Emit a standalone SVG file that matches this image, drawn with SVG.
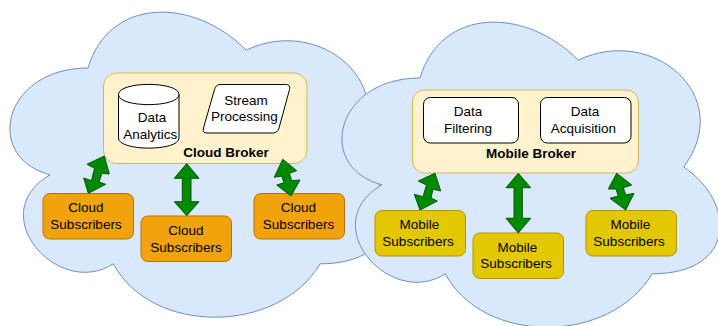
<svg xmlns="http://www.w3.org/2000/svg" width="718" height="326" viewBox="0 0 718 326">
<style>
.cloud{fill:#dae8fc;stroke:#6c8ebf;stroke-width:1}
.broker{fill:#fff2cc;stroke:#d6b656;stroke-width:1}
.cs{fill:#f0a30a;stroke:#bd7000;stroke-width:1}
.ms{fill:#e3c800;stroke:#b09500;stroke-width:1}
.inner{fill:#fff;stroke:#000;stroke-width:1}
.arrow{fill:#008a00;stroke:#005700;stroke-width:1;stroke-linejoin:miter}
text{font-family:"Liberation Sans",Arial,sans-serif;font-size:13.5px;fill:#000;text-anchor:middle}
.b{font-weight:bold}
</style>
<defs>
<path id="cloudShape" d="M105.500 89C21.100 89 0 178 67.520 195.800C0 234.960 75.960 320.400 130.820 284.800C168.800 356 295.400 356 337.600 284.800C422 284.800 422 213.600 369.250 178C422 106.800 337.600 35.600 263.750 71.200C211 17.800 126.600 17.800 105.500 89Z"/>
</defs>
<g id="cloud-region"><use href="#cloudShape" class="cloud" transform="translate(-17.500 -21)"/></g>
<g id="mobile-region"><use href="#cloudShape" class="cloud" transform="translate(314.500 -11)"/></g>
<g id="cloud-broker">
<rect class="broker" x="103.500" y="73" width="203.500" height="90.500" rx="13"/>
<text class="b" x="226" y="157">Cloud Broker</text>
</g>
<g id="data-analytics">
<path class="inner" d="M118.500 94.500C118.500 81 179 81 179 94.500V138C179 151.500 118.500 151.500 118.500 138Z"/>
<path d="M118.500 94.500C118.500 108 179 108 179 94.500" fill="none" stroke="#000"/>
<text x="152" y="122">Data</text>
<text x="150.300" y="139">Analytics</text>
</g>
<g id="stream-processing">
<path class="inner" d="M220 84.500H285.500Q291 84.500 289.500 89.500L279 128Q277.500 133 272.500 133H207Q202 133 203.500 128L214.500 89.500Q216 84.500 220 84.500Z"/>
<text x="246" y="105">Stream</text>
<text x="244.300" y="121">Processing</text>
</g>
<g id="cloud-sub-1"><rect class="cs" x="43" y="193.500" width="90.500" height="45.500" rx="6.800"/><text x="86" y="212">Cloud</text><text x="86" y="229">Subscribers</text></g>
<g id="cloud-sub-2"><rect class="cs" x="141" y="216" width="90.500" height="45.500" rx="6.800"/><text x="186" y="235">Cloud</text><text x="186" y="252">Subscribers</text></g>
<g id="cloud-sub-3"><rect class="cs" x="254" y="193.500" width="90.500" height="45.500" rx="6.800"/><text x="298.500" y="212">Cloud</text><text x="298.500" y="229">Subscribers</text></g>
<g id="mobile-broker">
<rect class="broker" x="412.500" y="90" width="226" height="83" rx="12"/>
<text class="b" x="531" y="158">Mobile Broker</text>
</g>
<g id="data-filtering"><rect class="inner" x="423.500" y="97.500" width="95" height="45.500" rx="6.800"/><text x="468" y="116">Data</text><text x="468" y="133">Filtering</text></g>
<g id="data-acquisition"><rect class="inner" x="540.500" y="97.500" width="90.500" height="45.500" rx="6.800"/><text x="585" y="116">Data</text><text x="583.500" y="133">Acquisition</text></g>
<g id="mobile-sub-1"><rect class="ms" x="375" y="210.500" width="90.500" height="45.500" rx="6.800"/><text x="419.500" y="229">Mobile</text><text x="418" y="246">Subscribers</text></g>
<g id="mobile-sub-2"><rect class="ms" x="473" y="233" width="90.500" height="45.500" rx="6.800"/><text x="517.500" y="252">Mobile</text><text x="516" y="268">Subscribers</text></g>
<g id="mobile-sub-3"><rect class="ms" x="586" y="210.500" width="90.500" height="45.500" rx="6.800"/><text x="630.500" y="229">Mobile</text><text x="629" y="246">Subscribers</text></g>
<g id="connectors">
<polygon class="arrow" points="104.300,156 109.300,174 102,173.300 99,182 105.700,184.300 88.300,193.300 83.700,178 91.500,180.700 94.500,168.300 87,164.300"/>
<polygon class="arrow" points="186.700,163.500 199,178.300 191,178.300 191,201.700 199,201.700 186.700,215.700 174.300,201.700 182.300,201.700 182.300,178.300 174.300,178.300"/>
<polygon class="arrow" points="282.700,159.300 296.700,170.700 289.300,173.300 291.700,180.700 300,180 291,196 276.700,185 284,182.700 281.700,176 274.300,177.300"/>
<polygon class="arrow" points="435,173.300 440.700,191 433,189 431,198 437.300,201 420,210 414.300,194.300 423,196.700 426.500,185 418.300,181"/>
<polygon class="arrow" points="518.300,173.300 530.700,187.700 522.300,187.700 522.300,218.300 530.700,218.300 518.300,233 506,218.300 514,218.300 514,187.700 506,187.700"/>
<polygon class="arrow" points="616.700,173.300 631.700,185 623.300,187.700 625.700,195 634,193.300 625.700,210 610,198.300 618.300,196 616,189 608.300,189"/>
</g>
</svg>
